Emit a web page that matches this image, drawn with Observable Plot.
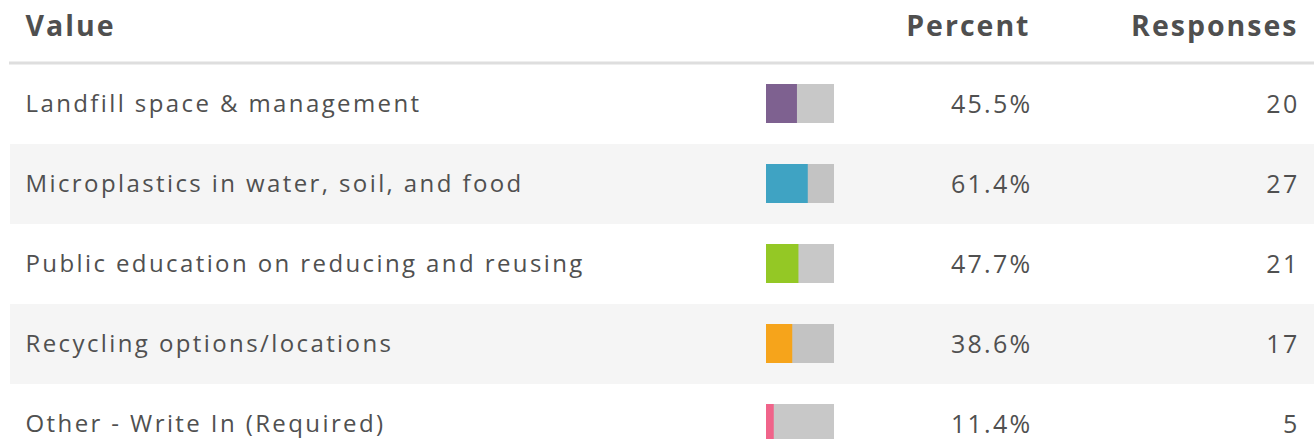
<!DOCTYPE html>
<html><head><meta charset="utf-8">
<script src="https://cdn.jsdelivr.net/npm/d3@7"></script>
<script src="https://cdn.jsdelivr.net/npm/@observablehq/plot@0.6"></script>
<style>
html,body{margin:0;padding:0;background:#fff;}
svg{font-family:"Open Sans","Noto Sans",sans-serif;}
g.lbl text{letter-spacing:2.4px;}
g.hdr text{letter-spacing:2px;}
g.num text{letter-spacing:2.3px;}
</style>
</head><body>
<div id="chart"></div>
<script>
const categories = [
  "Landfill space & management",
  "Microplastics in water, soil, and food",
  "Public education on reducing and reusing",
  "Recycling options/locations",
  "Other - Write In (Required)"
];
const percents = [45.5, 61.4, 47.7, 38.6, 11.4];
const responses = [20, 27, 21, 17, 5];
const colors = ["#7e6190", "#3fa3c3", "#94c825", "#f6a41b", "#f0648a"];
const headers = ["Value", "Percent", "Responses"];

const rows = categories.map((c, i) => ({
  cat: c, pct: percents[i], n: responses[i], color: colors[i], striped: i % 2 === 1
}));

const chart = Plot.plot({
  width: 1314,
  height: 439,
  marginTop: 62.5, marginBottom: 0, marginLeft: 0, marginRight: 0,
  x: {domain: [0, 100], range: [766, 834], axis: null},
  y: {type: "band", domain: categories, range: [64, 464], padding: 0, axis: null},
  color: {type: "identity"},
  style: {background: "#fff", overflow: "visible"},
  marks: [
    Plot.cell(rows.filter(d => d.striped), {y: "cat", fill: "#f5f5f5", insetLeft: 10}),
    Plot.ruleX(rows.filter(d => d.striped), {x: 0, y: "cat", dx: -15, stroke: "#e6e6e6", strokeWidth: 1}),
    Plot.frame({anchor: "top", stroke: "#dedede", strokeWidth: 3, insetLeft: 10}),
    Plot.barX(rows, {x1: 0, x2: 100, y: "cat", fill: d => d.striped ? "#c3c3c3" : "#c8c8c8", insetTop: 20, insetBottom: 21}),
    Plot.barX(rows, {x1: 0, x2: "pct", y: "cat", fill: "color", insetTop: 20, insetBottom: 21}),
    Plot.text(rows, {y: "cat", text: "cat", frameAnchor: "left", dx: 25, textAnchor: "start", fontSize: 24, fill: "#505050", className: "lbl"}),
    Plot.text(rows, {y: "cat", text: d => d.pct.toFixed(1) + "%", frameAnchor: "right", dx: -282, textAnchor: "end", fontSize: 25, fill: "#505050", className: "num"}),
    Plot.text(rows, {y: "cat", text: d => String(d.n), frameAnchor: "right", dx: -15, textAnchor: "end", fontSize: 25, fill: "#505050", className: "num"}),
    Plot.text([headers[0]], {text: d => d, frameAnchor: "top-left", dx: 25, dy: -36, fontSize: 28.5, fontWeight: "bold", fill: "#4f4f4f", textAnchor: "start", lineAnchor: "middle", className: "hdr"}),
    Plot.text([headers[1]], {text: d => d, frameAnchor: "top-right", dx: -284, dy: -36, fontSize: 28.5, fontWeight: "bold", fill: "#4f4f4f", textAnchor: "end", lineAnchor: "middle", className: "hdr"}),
    Plot.text([headers[2]], {text: d => d, frameAnchor: "top-right", dx: -16, dy: -36, fontSize: 28.5, fontWeight: "bold", fill: "#4f4f4f", textAnchor: "end", lineAnchor: "middle", className: "hdr"})
  ]
});
document.getElementById("chart").appendChild(chart);
</script>
</body></html>
